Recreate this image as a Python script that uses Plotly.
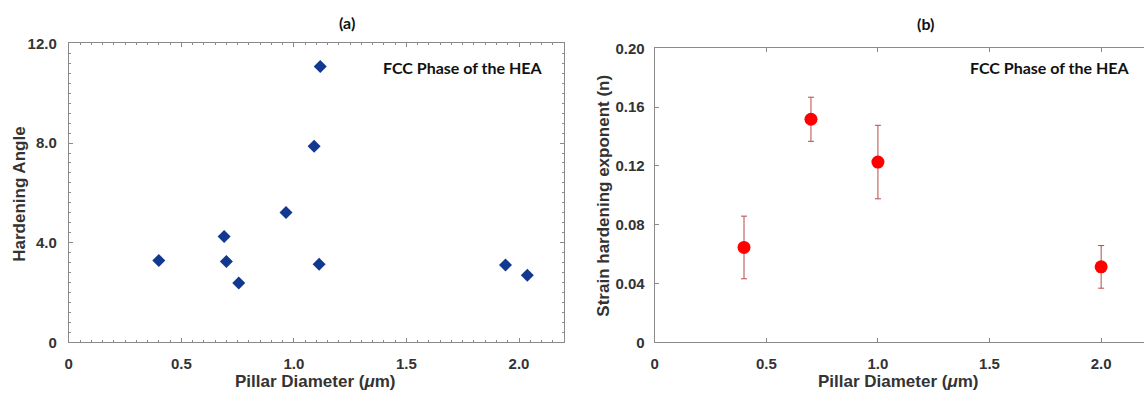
import plotly.graph_objects as go

# Panel (a): hardening angle vs pillar diameter
diam_a = [0.40, 0.69, 0.70, 0.755, 0.965, 1.09, 1.117, 1.112, 1.94, 2.037]
angle_a = [3.28, 4.25, 3.24, 2.38, 5.21, 7.87, 11.08, 3.13, 3.10, 2.69]

# Panel (b): strain hardening exponent vs nominal pillar diameter
diam_b = [0.4, 0.7, 1.0, 2.0]
n_b = [0.0645, 0.1517, 0.1226, 0.0513]
n_err = [0.0213, 0.0150, 0.0250, 0.0145]

x_ticks = [0, 0.5, 1.0, 1.5, 2.0]
x_ticktext = ["0", "0.5", "1.0", "1.5", "2.0"]
ya_ticks = [0, 4, 8, 12]
ya_ticktext = ["0", "4.0", "8.0", "12.0"]
yb_ticks = [0, 0.04, 0.08, 0.12, 0.16, 0.20]
yb_ticktext = ["0", "0.04", "0.08", "0.12", "0.16", "0.20"]

W, H = 1144, 402


def px(x):
    return x / W


def py(y):
    return (H - y) / H


SANS = "Arial, 'Liberation Sans', sans-serif"
TICK_FONT = dict(family=SANS, size=15, color="#333333", weight="bold")
TITLE_FONT = dict(family=SANS, size=17, color="#333333", weight="bold")
CAL_FONT = dict(family="Lato, 'Open Sans', sans-serif", size=16, color="#111111",
                weight="bold")
AXIS_COLOR = "#8a8a8a"

fig = go.Figure()

fig.add_trace(go.Scatter(
    x=diam_a, y=angle_a, mode="markers",
    marker=dict(symbol="diamond", size=10, color="#12388f"),
    xaxis="x", yaxis="y", showlegend=False,
))

fig.add_trace(go.Scatter(
    x=diam_b, y=n_b, mode="markers",
    marker=dict(symbol="circle", size=13, color="#ff0000"),
    error_y=dict(type="data", array=n_err, visible=True,
                 color="#b84a4a", thickness=1, width=3),
    xaxis="x2", yaxis="y2", showlegend=False,
))

common = dict(
    showline=True, linecolor=AXIS_COLOR, linewidth=1,
    ticks="inside", tickcolor=AXIS_COLOR, tickwidth=1,
    showgrid=False, zeroline=False, tickfont=TICK_FONT,
    tickmode="array",
)

fig.update_layout(
    width=W, height=H,
    margin=dict(l=0, r=0, t=0, b=0),
    paper_bgcolor="white", plot_bgcolor="white",
    xaxis=dict(**common, mirror="ticks", domain=[px(65), px(562)], range=[0, 2.2],
               tickvals=x_ticks, ticktext=x_ticktext, ticklen=4,
               minor=dict(dtick=0.05, ticks="inside", ticklen=2,
                          tickcolor=AXIS_COLOR, showgrid=False),
               anchor="y", ticklabelstandoff=8),
    yaxis=dict(**common, mirror="ticks", domain=[py(348), py(36)], range=[0, 12],
               tickvals=ya_ticks, ticktext=ya_ticktext, ticklen=4,
               minor=dict(dtick=0.4, ticks="inside", ticklen=2,
                          tickcolor=AXIS_COLOR, showgrid=False),
               anchor="x", ticklabelstandoff=8),
    xaxis2=dict(**common, mirror="ticks", domain=[px(653), 1.0], range=[0, 2.192],
                tickvals=x_ticks, ticktext=x_ticktext, ticklen=4,
                anchor="y2", ticklabelstandoff=8),
    yaxis2=dict(**common, mirror=False, domain=[py(348), py(41)], range=[0, 0.20],
                tickvals=yb_ticks, ticktext=yb_ticktext, ticklen=4,
                anchor="x2", ticklabelstandoff=6),
    # right-hand ticks of panel (b) without a frame line
    yaxis3=dict(overlaying="y2", side="right", anchor="x2", range=[0, 0.20],
                tickmode="array", tickvals=yb_ticks, showticklabels=False,
                ticks="inside", ticklen=4, tickcolor=AXIS_COLOR, tickwidth=1,
                showline=False, showgrid=False, zeroline=False),
)

annotations = [
    # panel letters
    dict(text="(a)", x=px(344), y=py(14), font=CAL_FONT),
    dict(text="(b)", x=px(925), y=py(15), font=CAL_FONT),
    # in-plot labels
    dict(text="FCC Phase of the HEA", x=px(542), y=py(61),
         xanchor="right", font=CAL_FONT),
    dict(text="FCC Phase of the HEA", x=px(1131), y=py(61),
         xanchor="right", font=CAL_FONT),
    # axis titles
    dict(text="Pillar Diameter (<i>μ</i>m)", x=px(313), y=py(389),
         font=TITLE_FONT),
    dict(text="Pillar Diameter (<i>μ</i>m)", x=px(898), y=py(389),
         font=TITLE_FONT),
    dict(text="Hardening Angle", x=px(16), y=py(193),
         textangle=-90, font=TITLE_FONT),
    dict(text="Strain hardening exponent (n)", x=px(602), y=py(195),
         textangle=-90, font=TITLE_FONT),
]
for a in annotations:
    a.update(xref="paper", yref="paper", showarrow=False,
             xanchor=a.get("xanchor", "center"), yanchor="middle")
fig.update_layout(annotations=annotations)

fig.write_html("out.html")
